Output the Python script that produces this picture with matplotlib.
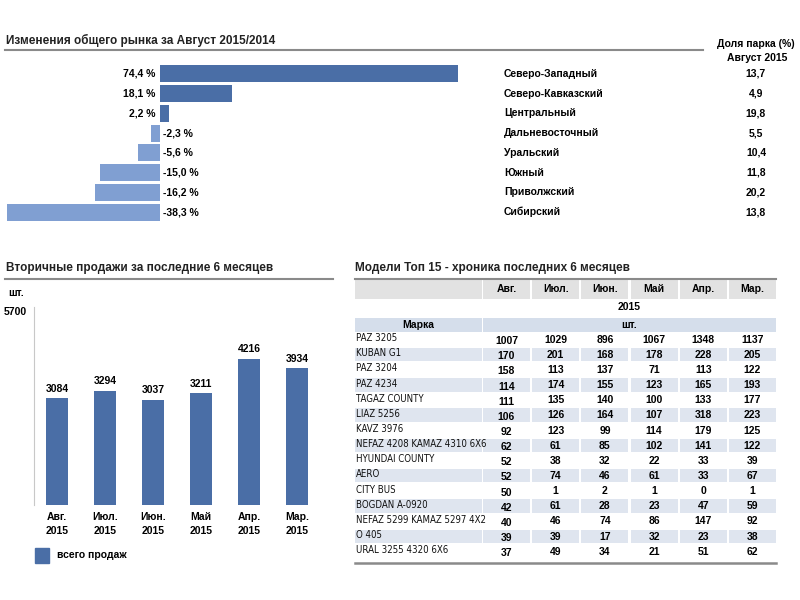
import matplotlib
matplotlib.use('Agg')
import matplotlib.pyplot as plt
from matplotlib.patches import Rectangle

plt.rcParams['font.family'] = ['Liberation Sans', 'DejaVu Sans']

# --- data -------------------------------------------------------------
regions = ['Северо-Западный', 'Северо-Кавказский', 'Центральный', 'Дальневосточный',
           'Уральский', 'Южный', 'Приволжский', 'Сибирский']
market_change = [74.4, 18.1, 2.2, -2.3, -5.6, -15.0, -16.2, -38.3]
park_share = ['13,7', '4,9', '19,8', '5,5', '10,4', '11,8', '20,2', '13,8']

months = ['Авг.\n2015', 'Июл.\n2015', 'Июн.\n2015', 'Май\n2015', 'Апр.\n2015', 'Мар.\n2015']
sales = [3084, 3294, 3037, 3211, 4216, 3934]

tbl_cols = ['Авг.', 'Июл.', 'Июн.', 'Май', 'Апр.', 'Мар.']
models = ['PAZ 3205', 'KUBAN G1', 'PAZ 3204', 'PAZ 4234', 'TAGAZ COUNTY', 'LIAZ 5256',
          'KAVZ 3976', 'NEFAZ 4208 KAMAZ 4310 6X6', 'HYUNDAI COUNTY', 'AERO', 'CITY BUS',
          'BOGDAN A-0920', 'NEFAZ 5299 KAMAZ 5297 4X2', 'O 405', 'URAL 3255 4320 6X6']
model_sales = [
    [1007, 1029, 896, 1067, 1348, 1137],
    [170, 201, 168, 178, 228, 205],
    [158, 113, 137, 71, 113, 122],
    [114, 174, 155, 123, 165, 193],
    [111, 135, 140, 100, 133, 177],
    [106, 126, 164, 107, 318, 223],
    [92, 123, 99, 114, 179, 125],
    [62, 61, 85, 102, 141, 122],
    [52, 38, 32, 22, 33, 39],
    [52, 74, 46, 61, 33, 67],
    [50, 1, 2, 1, 0, 1],
    [42, 61, 28, 23, 47, 59],
    [40, 46, 74, 86, 147, 92],
    [39, 39, 17, 32, 23, 38],
    [37, 49, 34, 21, 51, 62],
]

DARK = '#4a6ea6'
LIGHT = '#809fd2'
LINE = '#8a8a8a'
HEAD = '#e2e2e2'
BAND = '#dfe5ef'
W, H = 800, 600

fig = plt.figure(figsize=(8, 6), dpi=100)
bg = fig.add_axes([0, 0, 1, 1])
bg.set_xlim(0, W)
bg.set_ylim(H, 0)
bg.axis('off')


def px_axes(x0, y0, x1, y1):
    a = fig.add_axes([x0 / W, 1 - y1 / H, (x1 - x0) / W, (y1 - y0) / H])
    a.patch.set_alpha(0)
    return a


# --- top: market change by region ---------------------------------------
bg.text(6, 40, 'Изменения общего рынка за Август 2015/2014', fontsize=8.5,
        fontweight='bold', va='center', color='#222222')
bg.plot([5, 703], [50, 50], color=LINE, lw=1.5)
bg.text(756, 44, 'Доля парка (%)', fontsize=7.5, fontweight='bold', ha='center', va='center')
bg.text(757, 58, 'Август 2015', fontsize=7.5, fontweight='bold', ha='center', va='center')

ax1 = px_axes(0, 64, 800, 222)
ax1.set_xlim(-40, 160)
ax1.set_ylim(7.5, -0.5)
ax1.axis('off')
cols = [DARK if v > 0 else LIGHT for v in market_change]
ax1.barh(range(len(regions)), market_change, height=0.86, color=cols)
tr = ax1.get_yaxis_transform()
for i, v in enumerate(market_change):
    lab = ('%.1f %%' % v).replace('.', ',')
    if v > 0:
        ax1.text(-1.2, i, lab, ha='right', va='center', fontsize=7.5, fontweight='bold')
    else:
        ax1.text(0.8, i, lab, ha='left', va='center', fontsize=7.5, fontweight='bold')
    ax1.text(504 / W, i, regions[i], transform=tr, ha='left', va='center',
             fontsize=7.5, fontweight='bold')
    ax1.text(756 / W, i, park_share[i], transform=tr, ha='center', va='center',
             fontsize=7.5, fontweight='bold')

# --- bottom left: secondary sales ----------------------------------------
bg.text(6, 268, 'Вторичные продажи за последние 6 месяцев', fontsize=8.5,
        fontweight='bold', va='center', color='#222222')
bg.plot([5, 333], [279, 279], color=LINE, lw=1.5)
bg.text(8, 293, 'шт.', fontsize=7.5, fontweight='bold', va='center')

ax2 = px_axes(34, 307, 333, 505)
ax2.set_xlim(-0.48, 5.75)
ax2.set_ylim(0, 5700)
bars = ax2.bar(range(len(sales)), sales, width=0.46, color=DARK)
for s in ['top', 'right', 'bottom']:
    ax2.spines[s].set_visible(False)
ax2.spines['left'].set_color('#c8c8c8')
ax2.set_yticks([5700])
ax2.set_yticklabels(['5700'], fontsize=7.5, fontweight='bold')
ax2.tick_params(axis='y', length=0, pad=5)
ax2.get_yticklabels()[0].set_va('top')
ax2.set_xticks(range(len(months)))
ax2.set_xticklabels(months, fontsize=7.5, fontweight='bold', linespacing=1.5)
ax2.tick_params(axis='x', length=0, pad=5)
for i, v in enumerate(sales):
    ax2.annotate(str(v), (i, v), xytext=(0, 3), textcoords='offset points',
                 ha='center', va='bottom', fontsize=7.5, fontweight='bold')

bg.add_patch(Rectangle((35, 548), 14, 15, color=DARK))
bg.text(57, 555, 'всего продаж', fontsize=7.5, fontweight='bold', va='center')

# --- bottom right: top 15 models table -------------------------------------
bg.text(355, 268, 'Модели Топ 15 - хроника последних 6 месяцев', fontsize=8.5,
        fontweight='bold', va='center', color='#222222')
bg.plot([355, 776], [279, 279], color=LINE, lw=1.5)

lab_x0, lab_x1 = 355, 482
col_x0 = 483
col_w, col_gap = 47, 2.2
col_left = [col_x0 + k * (col_w + col_gap) for k in range(len(tbl_cols))]
tbl_right = col_left[-1] + col_w
mid = (col_x0 + tbl_right) / 2

for k, c in enumerate(tbl_cols):
    bg.add_patch(Rectangle((col_left[k], 280), col_w, 19, color=HEAD, lw=0))
    bg.text(col_left[k] + col_w / 2, 289, c, ha='center', va='center',
            fontsize=7.5, fontweight='bold')
bg.add_patch(Rectangle((lab_x0, 280), lab_x1 - lab_x0, 19, color=HEAD, lw=0))
bg.text(mid, 307, '2015', ha='center', va='center', fontsize=7.5, fontweight='bold')
bg.add_patch(Rectangle((lab_x0, 318), lab_x1 - lab_x0, 14, color='#d5deeb', lw=0))
bg.add_patch(Rectangle((col_x0, 318), tbl_right - col_x0, 14, color='#d5deeb', lw=0))
bg.text((lab_x0 + lab_x1) / 2, 325, 'Марка', ha='center', va='center',
        fontsize=7.5, fontweight='bold')
bg.text(mid, 325, 'шт.', ha='center', va='center', fontsize=7.5, fontweight='bold')

row0, row_h = 339.6, 15.15
for i, name in enumerate(models):
    yc = row0 + i * row_h
    if i % 2 == 1:
        bg.add_patch(Rectangle((lab_x0, yc - 7), lab_x1 - lab_x0, 13.5, color=BAND, lw=0))
        for k in range(len(tbl_cols)):
            bg.add_patch(Rectangle((col_left[k], yc - 7), col_w, 13.5, color=BAND, lw=0))
    bg.text(lab_x0 + 1, yc - 1.5, name, ha='left', va='center', fontsize=6.9,
            family='DejaVu Sans', fontstretch='condensed', color='#111111')
    for k, v in enumerate(model_sales[i]):
        dy = 1.5 if k == 0 else 0
        bg.text(col_left[k] + col_w / 2, yc + dy, str(v), ha='center', va='center',
                fontsize=7.5, fontweight='bold')
bg.plot([355, tbl_right], [563, 563], color=LINE, lw=1.8)

fig.savefig('out.png', dpi=100)
